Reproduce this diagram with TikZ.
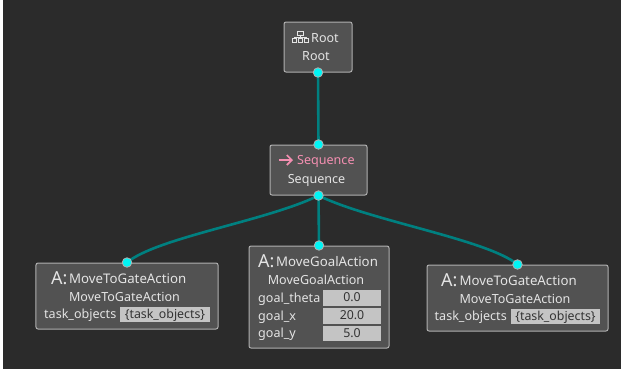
\documentclass[tikz,border=0pt]{standalone}
\usepackage{fontspec}
\setmainfont{Noto Sans}
\usetikzlibrary{calc, positioning, arrows.meta}
\definecolor{canvas}{HTML}{2B2B2B}
\definecolor{boxfill}{HTML}{525252}
\definecolor{boxline}{HTML}{B0B0B0}
\definecolor{wire}{HTML}{008080}
\definecolor{portfill}{HTML}{00F5F5}
\definecolor{labelcol}{HTML}{E4E4E4}
\definecolor{fieldcol}{HTML}{C4C4C4}
\definecolor{pinkcol}{HTML}{F48FB1}

\begin{document}
\begin{tikzpicture}[x=1bp, y=-1bp,
  box/.style={draw=boxline, fill=boxfill, rounded corners=2bp, line width=1bp, minimum width=#1, inner sep=0pt},
  port/.style={circle, fill=portfill, draw=boxline, line width=.8bp, minimum size=9.5bp, inner sep=0pt},
  wireline/.style={draw=wire, line width=2.6bp},
  txt/.style={text=labelcol, font=\fontsize{12.6}{14}\selectfont, inner sep=0pt, anchor=base},
  head/.style={text=labelcol, font=\fontsize{12.6}{14}\selectfont, inner sep=0pt, anchor=base west},
  acthead/.style={text=labelcol, font=\fontsize{13.3}{14}\selectfont, inner sep=0pt, anchor=base west},
  bigA/.style={text=labelcol, font=\fontsize{18}{18}\selectfont, inner sep=0pt, anchor=base west},
  field/.style={fill=fieldcol, text=black!80, font=\fontsize{12.4}{14}\selectfont, inner sep=0pt, text height=11.5bp, text depth=4bp}]
  \useasboundingbox (0,0) rectangle (621,373);
  \fill[canvas] (3,0) rectangle (621,369);

  % boxes
  \node[box=68bp, minimum height=50bp] (root) at (318,47) {};
  \node[box=97bp, minimum height=50bp] (seq) at (318.5,170) {};
  \node[box=182bp, minimum height=66bp] (left) at (127,296) {};
  \node[box=140bp, minimum height=102bp] (mid) at (319,297) {};
  \node[box=181bp, minimum height=66bp] (right) at (517.5,298) {};

  % connectors
  \draw[wireline] (root.south) -- (seq.north);
  \draw[wireline] (seq.south) -- (mid.north);
  \draw[wireline] (seq.south) .. controls +(-50,25) and +(30,-25) .. (left.north);
  \draw[wireline] (seq.south) .. controls +(50,25) and +(-30,-25) .. (right.north);

  % ports
  \node[port] (rootout) at (root.south) {};
  \node[port] (seqin) at (seq.north) {};
  \node[port] (seqout) at (seq.south) {};
  \node[port] (leftin) at (left.north) {};
  \node[port] (midin) at (mid.north) {};
  \node[port] (rightin) at (right.north) {};

  % root
  \draw[labelcol, line width=.6bp] (297.5,31.5) rectangle (303.5,35) (292.5,38.5) rectangle (296.5,42) (298.5,38.5) rectangle (302.5,42) (304.5,38.5) rectangle (308.5,42) (300.5,35) -- (300.5,38.5) (294.5,38.5) -- (294.5,36.8) -- (306.5,36.8) -- (306.5,38.5);
  \node[head] (roottitle) at (311,42) {Root};
  \node[txt] (rootname) at (316,60) {Root};

  % sequence
  \draw[-{Straight Barb[length=5bp, width=10bp]}, pinkcol, line width=1.7bp] (279,160) -- (293,160);
  \node[head, text=pinkcol] (seqtitle) at (297,164.7) {Sequence};
  \node[txt] (seqname) at (316.5,183.3) {Sequence};

  % left action
  \node[bigA] (lefta) at (51,284) {A:};
  \node[acthead] (lefttitle) at (69,283.3) {MoveToGateAction};
  \node[txt] (leftname) at (124.5,301.7) {MoveToGateAction};
  \node[txt, anchor=base west] (leftkey) at (44,318.3) {task\_objects};
  \node[field, minimum width=90bp] (leftval) at (165,314.5) {\{task\_objects\}};

  % middle action
  \node[bigA] (mida) at (258,267) {A:};
  \node[acthead] (midtitle) at (276,266) {MoveGoalAction};
  \node[txt] (midname) at (316,284.3) {MoveGoalAction};
  \node[txt, anchor=base west] (thetakey) at (258,302.3) {goal\_theta};
  \node[txt, anchor=base west] (xkey) at (258,320) {goal\_x};
  \node[txt, anchor=base west] (ykey) at (258,337.7) {goal\_y};
  \node[field, minimum width=58bp] (thetaval) at (352,298.2) {0.0};
  \node[field, minimum width=58bp] (xval) at (352,315.8) {20.0};
  \node[field, minimum width=58bp] (yval) at (352,333.5) {5.0};

  % right action
  \node[bigA] (righta) at (441,286) {A:};
  \node[acthead] (righttitle) at (459.5,285) {MoveToGateAction};
  \node[txt] (rightname) at (515,303.5) {MoveToGateAction};
  \node[txt, anchor=base west] (rightkey) at (434.5,320) {task\_objects};
  \node[field, minimum width=89bp] (rightval) at (555.5,316.5) {\{task\_objects\}};
\end{tikzpicture}
\end{document}
